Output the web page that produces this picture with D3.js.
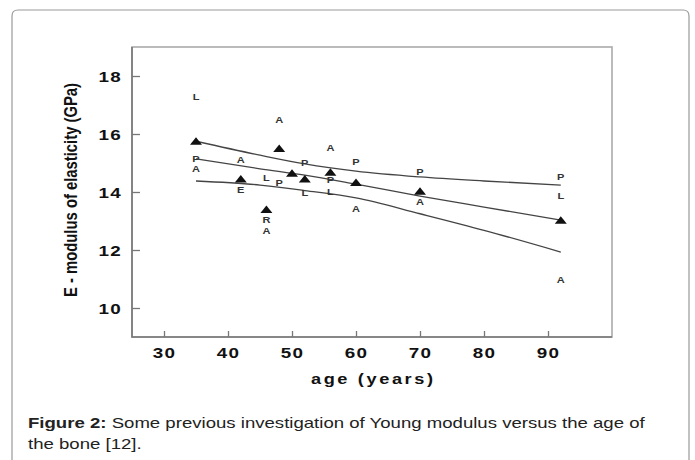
<!DOCTYPE html>
<html lang="en">
<head>
<meta charset="UTF-8">
<title>Young modulus versus age</title>
<script src="https://cdn.jsdelivr.net/npm/d3@7"></script>
<style>
  body { margin: 0; background: #fff; }
  svg { display: block; font-family: Arial, "Liberation Sans", sans-serif; }
</style>
</head>
<body>
<script>

    // tick labels
    var xTicks = [30, 40, 50, 60, 70, 80, 90];
    var yTicks = [10, 12, 14, 16, 18];

    // filled triangles (age, E)
    var triAge = [35, 42, 46, 48, 50, 52, 56, 60, 70, 92];
    var triE   = [15.75, 14.45, 13.4, 15.5, 14.65, 14.45, 14.68, 14.33, 14.03, 13.03];

    // letter symbols of the other studies
    var pointsA = [[35, 14.8], [42, 15.12], [48, 16.48], [56, 15.52], [60, 13.42], [70, 13.66], [92, 10.97], [46, 12.66]];
    var pointsP = [[35, 15.14], [48, 14.31], [52, 15.0], [56, 14.4], [60, 15.05], [70, 14.69], [92, 14.52]];
    var pointsL = [[35, 17.28], [46, 14.48], [52, 13.97], [56, 14.0], [92, 13.88]];
    var pointsE = [[42, 14.07]];
    var pointsR = [[46, 13.02]];

    // fitted curves
    var fitAge   = [35, 45, 52, 60, 70, 80, 92];
    var fitUpper = [15.75, 15.27, 14.97, 14.72, 14.52, 14.38, 14.24];
    var fitMid   = [15.14, 14.8, 14.58, 14.27, 13.86, 13.48, 13.03];
    var fitLow   = [14.38, 14.24, 14.05, 13.8, 13.25, 12.68, 11.93];

    var width = 695, height = 460;
    var stretch = "scale(1.3,1)";   // the scanned figure is stretched sideways

    var svg = d3.select("body").append("svg")
        .attr("width", width)
        .attr("height", height);

    // outer card frame, open at the bottom
    svg.append("path")
        .attr("d", "M12,460V16Q12,10 18,10H683Q689,10 689,16V460")
        .attr("fill", "none")
        .attr("stroke", "#999")
        .attr("stroke-width", 1.2);

    var x = d3.scaleLinear().domain([25, 100]).range([132, 612]);
    var y = d3.scaleLinear().domain([9, 19]).range([337, 47]);

    // plot box
    svg.append("rect")
        .attr("x", x(25)).attr("y", y(19))
        .attr("width", x(100) - x(25)).attr("height", y(9) - y(19))
        .attr("fill", "none")
        .attr("stroke", "#aaa")
        .attr("stroke-width", 1.6);
    svg.append("path")
        .attr("d", "M" + x(25) + "," + y(19) + "V" + y(9) + "H" + x(100))
        .attr("fill", "none")
        .attr("stroke", "#777")
        .attr("stroke-width", 1.6);

    // x axis
    var gx = svg.append("g")
        .attr("transform", "translate(0," + y(9) + ")")
        .call(d3.axisBottom(x).tickValues(xTicks).tickSize(-6));
    gx.select(".domain").remove();
    gx.selectAll(".tick line").attr("stroke", "#777").attr("stroke-width", 1.3);
    gx.selectAll(".tick text")
        .attr("y", null).attr("dy", null)
        .attr("transform", "translate(0,21) " + stretch)
        .attr("fill", "#111")
        .attr("font-family", "Arial, 'Liberation Sans', sans-serif")
        .attr("font-weight", "bold")
        .attr("font-size", 14.5)
        .attr("letter-spacing", 1);

    // y axis
    var gy = svg.append("g")
        .attr("transform", "translate(" + x(25) + ",0)")
        .call(d3.axisLeft(y).tickValues(yTicks).tickSize(-8));
    gy.select(".domain").remove();
    gy.selectAll(".tick line").attr("stroke", "#777").attr("stroke-width", 1.3);
    gy.selectAll(".tick text")
        .attr("x", 0).attr("dy", "0.36em")
        .attr("transform", "translate(-10,0) " + stretch)
        .attr("fill", "#111")
        .attr("font-family", "Arial, 'Liberation Sans', sans-serif")
        .attr("font-weight", "bold")
        .attr("font-size", 14.5)
        .attr("letter-spacing", 1);

    // axis titles
    svg.append("text")
        .attr("transform", "translate(372,384) " + stretch)
        .attr("text-anchor", "middle")
        .attr("font-weight", "bold")
        .attr("font-size", 14)
        .attr("fill", "#111")
        .attr("textLength", 94)
        .attr("lengthAdjust", "spacing")
        .text("age (years)");

    svg.append("text")
        .attr("transform", "translate(77,190) " + stretch + " rotate(-90)")
        .attr("text-anchor", "middle")
        .attr("font-weight", "bold")
        .attr("font-size", 14)
        .attr("fill", "#111")
        .attr("textLength", 214)
        .attr("lengthAdjust", "spacingAndGlyphs")
        .text("E - modulus of elasticity (GPa)");

    // fitted curves
    var line = d3.line()
        .x(function(d) { return x(d[0]); })
        .y(function(d) { return y(d[1]); })
        .curve(d3.curveMonotoneX);

    [fitUpper, fitMid, fitLow].forEach(function(fit) {
        svg.append("path")
            .datum(fitAge.map(function(a, i) { return [a, fit[i]]; }))
            .attr("d", line)
            .attr("fill", "none")
            .attr("stroke", "#444")
            .attr("stroke-width", 1.3);
    });

    // letter markers
    var letters = [];
    pointsA.forEach(function(p) { letters.push({ a: p[0], e: p[1], s: "A" }); });
    pointsP.forEach(function(p) { letters.push({ a: p[0], e: p[1], s: "P" }); });
    pointsL.forEach(function(p) { letters.push({ a: p[0], e: p[1], s: "L" }); });
    pointsE.forEach(function(p) { letters.push({ a: p[0], e: p[1], s: "E" }); });
    pointsR.forEach(function(p) { letters.push({ a: p[0], e: p[1], s: "R" }); });

    svg.append("g").selectAll("text")
        .data(letters)
        .enter().append("text")
        .attr("transform", function(d) { return "translate(" + x(d.a) + "," + y(d.e) + ") " + stretch; })
        .attr("dy", "0.36em")
        .attr("text-anchor", "middle")
        .attr("font-weight", "bold")
        .attr("font-size", 8.5)
        .attr("fill", "#333")
        .text(function(d) { return d.s; });

    // triangles
    svg.append("g").selectAll("path")
        .data(triAge.map(function(a, i) { return [a, triE[i]]; }))
        .enter().append("path")
        .attr("transform", function(d) { return "translate(" + x(d[0]) + "," + y(d[1]) + ")"; })
        .attr("d", "M-6,3.5L6,3.5L0,-4Z")
        .attr("fill", "#111");

    // caption
    var cap1 = svg.append("text")
        .attr("transform", "translate(28,428) " + stretch)
        .attr("font-size", 14.3)
        .attr("fill", "#222");
    cap1.append("tspan").attr("font-weight", "bold").text("Figure 2:");
    cap1.append("tspan").text(" Some previous investigation of Young modulus versus the age of");

    svg.append("text")
        .attr("transform", "translate(28,449) " + stretch)
        .attr("font-size", 14.3)
        .attr("fill", "#222")
        .text("the bone [12].");

</script>
</body>
</html>
